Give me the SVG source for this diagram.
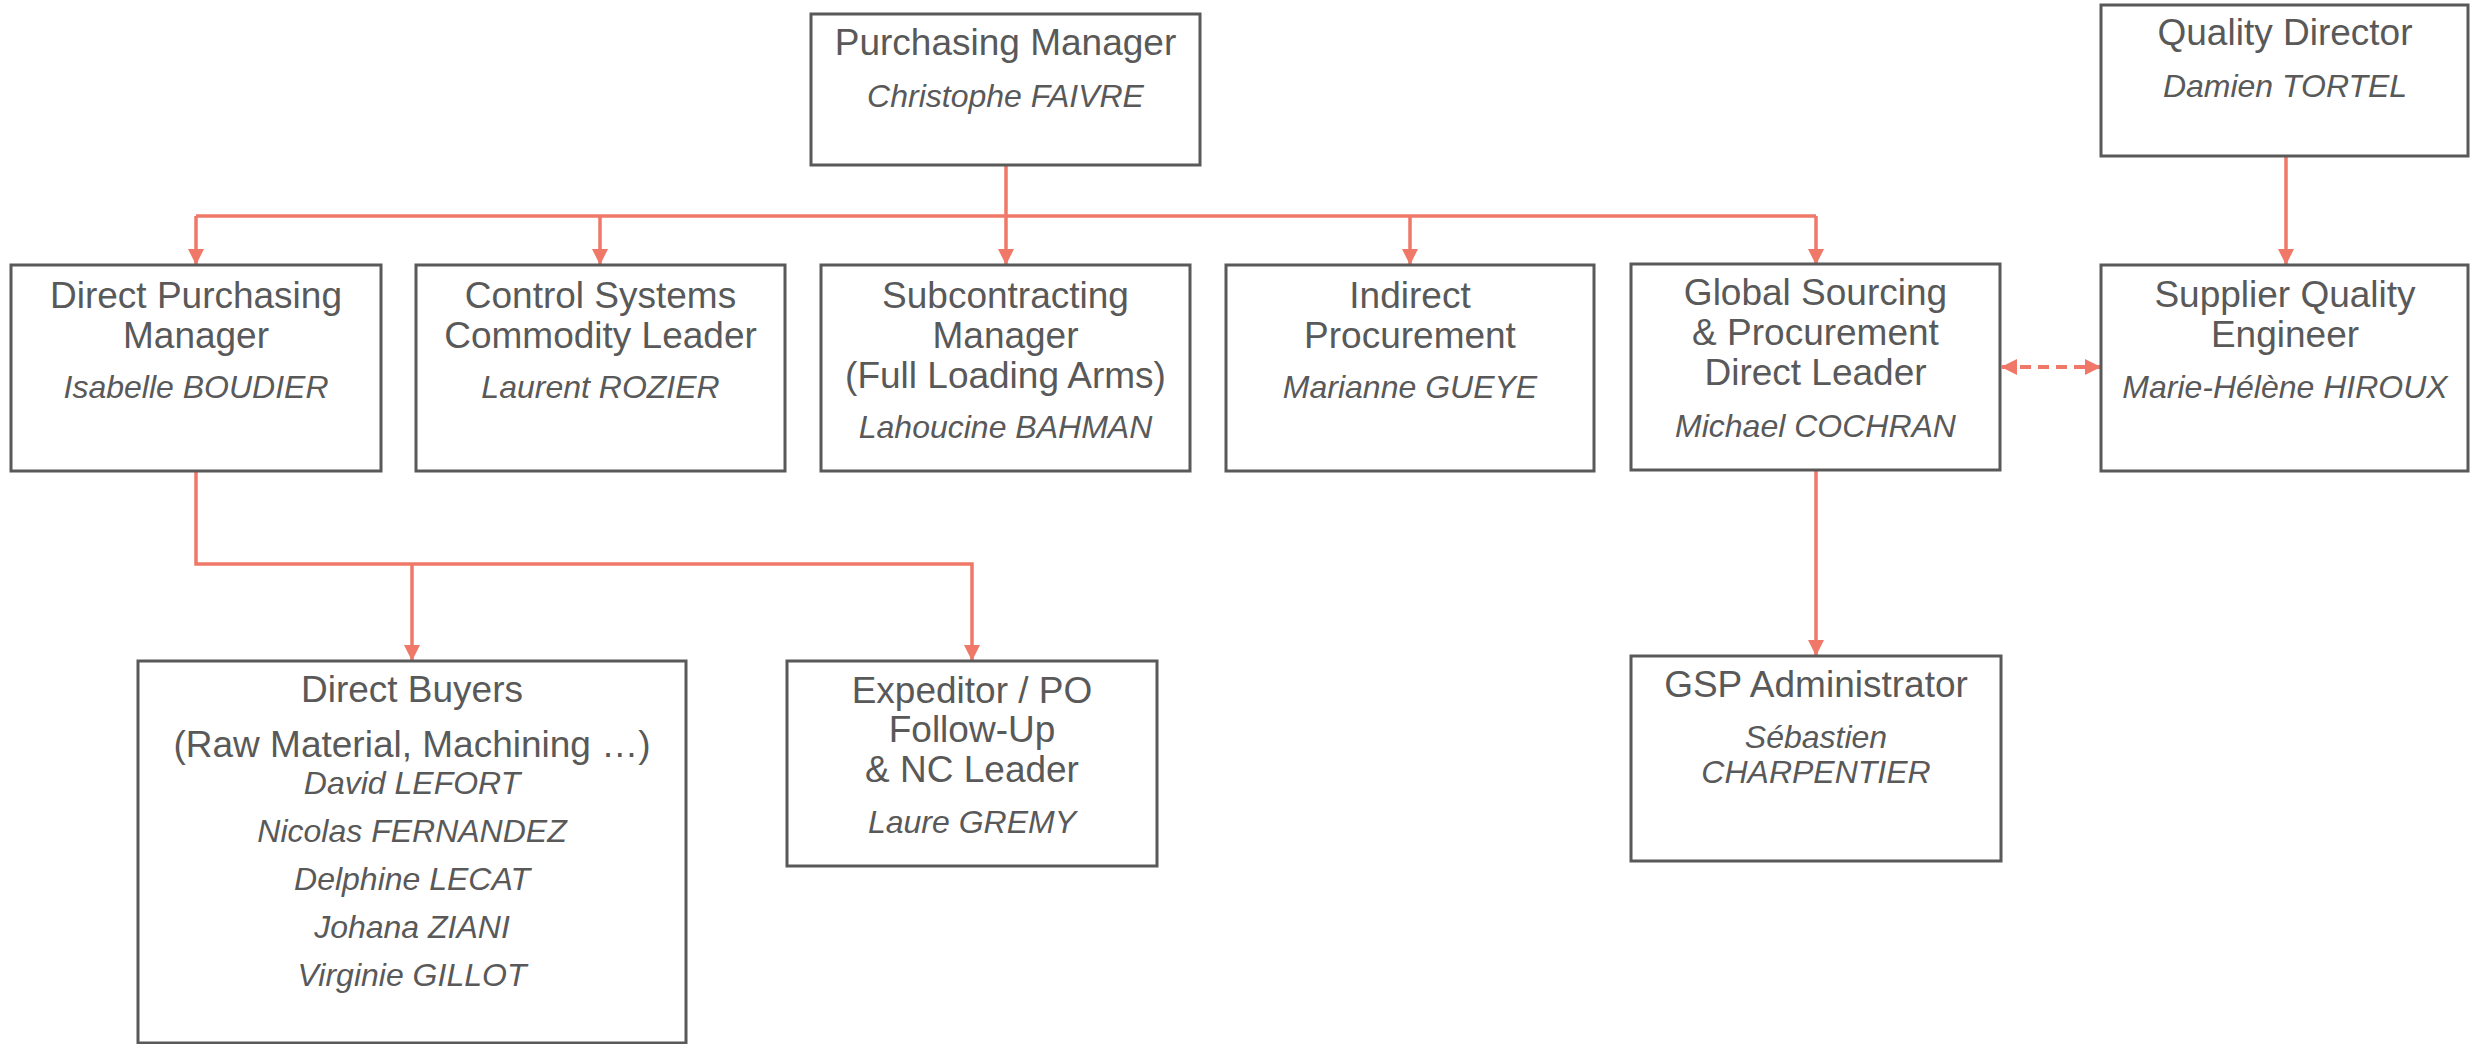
<svg xmlns="http://www.w3.org/2000/svg" width="2470" height="1044" viewBox="0 0 2470 1044">
<defs>
<style>
.box{fill:#ffffff;stroke:#595959;stroke-width:3}
.t{font-family:"Liberation Sans",Arial,sans-serif;font-size:37px;fill:#595959;text-anchor:middle}
.n{font-family:"Liberation Sans",Arial,sans-serif;font-size:32px;font-style:italic;fill:#595959;text-anchor:middle}
.c{fill:none;stroke:#EF7868;stroke-width:3.5}
.d{fill:none;stroke:#EF7868;stroke-width:4;stroke-dasharray:11 7}
</style>
<marker id="ah" markerUnits="userSpaceOnUse" viewBox="0 0 16 16" refX="16" refY="8" markerWidth="16" markerHeight="16" orient="auto">
<path d="M0,0 L16,8 L0,16 Z" fill="#EF7868"/>
</marker>
<marker id="ahs" markerUnits="userSpaceOnUse" viewBox="0 0 16 16" refX="15" refY="8" markerWidth="16" markerHeight="16" orient="auto-start-reverse">
<path d="M0,0 L16,8 L0,16 Z" fill="#EF7868"/>
</marker>
</defs>
<rect width="2470" height="1044" fill="#ffffff"/>
<g id="connectors">
<path class="c" d="M1006,165 V216"/>
<path class="c" d="M196,216 H1816"/>
<path class="c" d="M196,216 V265" marker-end="url(#ah)"/>
<path class="c" d="M600,216 V265" marker-end="url(#ah)"/>
<path class="c" d="M1006,216 V265" marker-end="url(#ah)"/>
<path class="c" d="M1410,216 V265" marker-end="url(#ah)"/>
<path class="c" d="M1816,216 V265" marker-end="url(#ah)"/>
<path class="c" d="M2286,156 V265" marker-end="url(#ah)"/>
<path class="c" d="M196,471 V564 H972 V661" marker-end="url(#ah)"/>
<path class="c" d="M412,564 V661" marker-end="url(#ah)"/>
<path class="c" d="M1816,470 V656" marker-end="url(#ah)"/>
<path class="d" d="M2002,367 H2100" marker-start="url(#ahs)" marker-end="url(#ahs)"/>
</g>
<g id="purchasing-manager">
<rect class="box" x="811" y="14" width="389" height="151"/>
<text class="t" x="1005.5" y="55">Purchasing Manager</text>
<text class="n" x="1005.5" y="107">Christophe FAIVRE</text>
</g>
<g id="quality-director">
<rect class="box" x="2101" y="5" width="367" height="151"/>
<text class="t" x="2285" y="45">Quality Director</text>
<text class="n" x="2285" y="97">Damien TORTEL</text>
</g>
<g id="direct-purchasing-manager">
<rect class="box" x="11" y="265" width="370" height="206"/>
<text class="t" x="196" y="308">Direct Purchasing</text>
<text class="t" x="196" y="348">Manager</text>
<text class="n" x="196" y="398">Isabelle BOUDIER</text>
</g>
<g id="control-systems">
<rect class="box" x="416" y="265" width="369" height="206"/>
<text class="t" x="600.5" y="308">Control Systems</text>
<text class="t" x="600.5" y="348">Commodity Leader</text>
<text class="n" x="600.5" y="398">Laurent ROZIER</text>
</g>
<g id="subcontracting-manager">
<rect class="box" x="821" y="265" width="369" height="206"/>
<text class="t" x="1005.5" y="308">Subcontracting</text>
<text class="t" x="1005.5" y="348">Manager</text>
<text class="t" x="1005.5" y="388">(Full Loading Arms)</text>
<text class="n" x="1005.5" y="438">Lahoucine BAHMAN</text>
</g>
<g id="indirect-procurement">
<rect class="box" x="1226" y="265" width="368" height="206"/>
<text class="t" x="1410" y="308">Indirect</text>
<text class="t" x="1410" y="348">Procurement</text>
<text class="n" x="1410" y="398">Marianne GUEYE</text>
</g>
<g id="global-sourcing">
<rect class="box" x="1631" y="264" width="369" height="206"/>
<text class="t" x="1815.5" y="305">Global Sourcing</text>
<text class="t" x="1815.5" y="345">&amp; Procurement</text>
<text class="t" x="1815.5" y="385">Direct Leader</text>
<text class="n" x="1815.5" y="437">Michael COCHRAN</text>
</g>
<g id="supplier-quality-engineer">
<rect class="box" x="2101" y="265" width="367" height="206"/>
<text class="t" x="2285" y="307">Supplier Quality</text>
<text class="t" x="2285" y="347">Engineer</text>
<text class="n" x="2285" y="398">Marie-Hélène HIROUX</text>
</g>
<g id="direct-buyers">
<rect class="box" x="138" y="661" width="548" height="382"/>
<text class="t" x="412" y="702">Direct Buyers</text>
<text class="t" x="412" y="757">(Raw Material, Machining …)</text>
<text class="n" x="412" y="794">David LEFORT</text>
<text class="n" x="412" y="842">Nicolas FERNANDEZ</text>
<text class="n" x="412" y="890">Delphine LECAT</text>
<text class="n" x="412" y="938">Johana ZIANI</text>
<text class="n" x="412" y="986">Virginie GILLOT</text>
</g>
<g id="expeditor">
<rect class="box" x="787" y="661" width="370" height="205"/>
<text class="t" x="972" y="703">Expeditor / PO</text>
<text class="t" x="972" y="742">Follow-Up</text>
<text class="t" x="972" y="782">&amp; NC Leader</text>
<text class="n" x="972" y="833">Laure GREMY</text>
</g>
<g id="gsp-administrator">
<rect class="box" x="1631" y="656" width="370" height="205"/>
<text class="t" x="1816" y="697">GSP Administrator</text>
<text class="n" x="1816" y="748">Sébastien</text>
<text class="n" x="1816" y="783">CHARPENTIER</text>
</g>
</svg>
